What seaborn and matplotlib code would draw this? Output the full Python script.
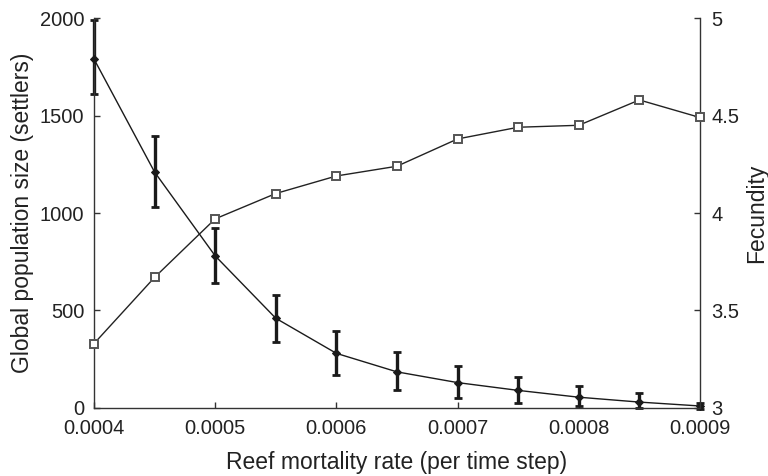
import numpy as np
import pandas as pd
import seaborn as sns
import matplotlib.pyplot as plt

# Datos
mortalidad = [0.0004, 0.00045, 0.0005, 0.00055, 0.0006, 0.00065,
              0.0007, 0.00075, 0.0008, 0.00085, 0.0009]
poblacion = [1790, 1210, 780, 460, 280, 185, 130, 90, 55, 30, 10]
pob_sup = [1990, 1395, 925, 580, 395, 285, 215, 160, 115, 75, 25]
pob_inf = [1610, 1030, 640, 340, 170, 90, 50, 25, 10, 0, -5]
fecundidad = [3.33, 3.67, 3.97, 4.10, 4.19, 4.24, 4.38, 4.44, 4.45, 4.58, 4.49]

x_ticks = [0.0004, 0.0005, 0.0006, 0.0007, 0.0008, 0.0009]
x_labels = ["0.0004", "0.0005", "0.0006", "0.0007", "0.0008", "0.0009"]
y1_ticks = [0, 500, 1000, 1500, 2000]
y2_ticks = [3, 3.5, 4, 4.5, 5]
y2_labels = ["3", "3.5", "4", "4.5", "5"]

df = pd.DataFrame({"mortalidad": mortalidad, "poblacion": poblacion,
                   "fecundidad": fecundidad})

sns.set_style("ticks")
plt.rcParams["font.family"] = ["Liberation Sans", "DejaVu Sans"]
plt.rcParams["xtick.direction"] = "in"
plt.rcParams["ytick.direction"] = "in"

fig = plt.figure(figsize=(7.68, 4.76), dpi=100)
ax = fig.add_axes([0.1224, 0.143, 0.789, 0.819])
ax2 = ax.twinx()

# Fecundidad (eje derecho)
sns.lineplot(data=df, x="mortalidad", y="fecundidad", ax=ax2, color="#222222",
             lw=1, marker="s", markersize=6, markerfacecolor="white",
             markeredgecolor="#555555", markeredgewidth=1.4, clip_on=False,
             zorder=3)

# Poblacion con barras de error (eje izquierdo)
err = [np.array(poblacion) - np.array(pob_inf), np.array(pob_sup) - np.array(poblacion)]
ax.errorbar(mortalidad, poblacion, yerr=err, fmt="none", ecolor="#1a1a1a",
            elinewidth=2.4, capsize=3, capthick=2, clip_on=False, zorder=2)
sns.lineplot(data=df, x="mortalidad", y="poblacion", ax=ax, color="#1a1a1a",
             lw=1, marker="D", markersize=4, markeredgecolor="#1a1a1a",
             clip_on=False, zorder=3)

ax.set_xlim(0.0004, 0.0009)
ax.set_ylim(0, 2000)
ax2.set_ylim(3, 5)
ax.set_xticks(x_ticks)
ax.set_xticklabels(x_labels)
ax.set_yticks(y1_ticks)
ax2.set_yticks(y2_ticks)
ax2.set_yticklabels(y2_labels)

for a in (ax, ax2):
    a.spines["top"].set_visible(False)
    for s in a.spines.values():
        s.set_color("#333333")
        s.set_linewidth(1)
    a.tick_params(labelsize=14.5, length=4, width=1, color="#333333",
                  labelcolor="#222222")
ax.spines["right"].set_visible(False)
ax2.spines["left"].set_visible(False)
ax2.spines["bottom"].set_visible(False)
ax.tick_params(axis="x", pad=8)
ax.tick_params(axis="y", pad=7)
ax2.tick_params(axis="y", pad=8)

ax.set_xlabel("Reef mortality rate (per time step)", fontsize=16.5,
              color="#222222", labelpad=9)
ax.set_ylabel("Global population size (settlers)", fontsize=16.5,
              color="#222222", labelpad=4.5)
ax2.set_ylabel("Fecundity", fontsize=16.5, color="#222222", labelpad=4.5)

fig.savefig("out.png", dpi=100)
